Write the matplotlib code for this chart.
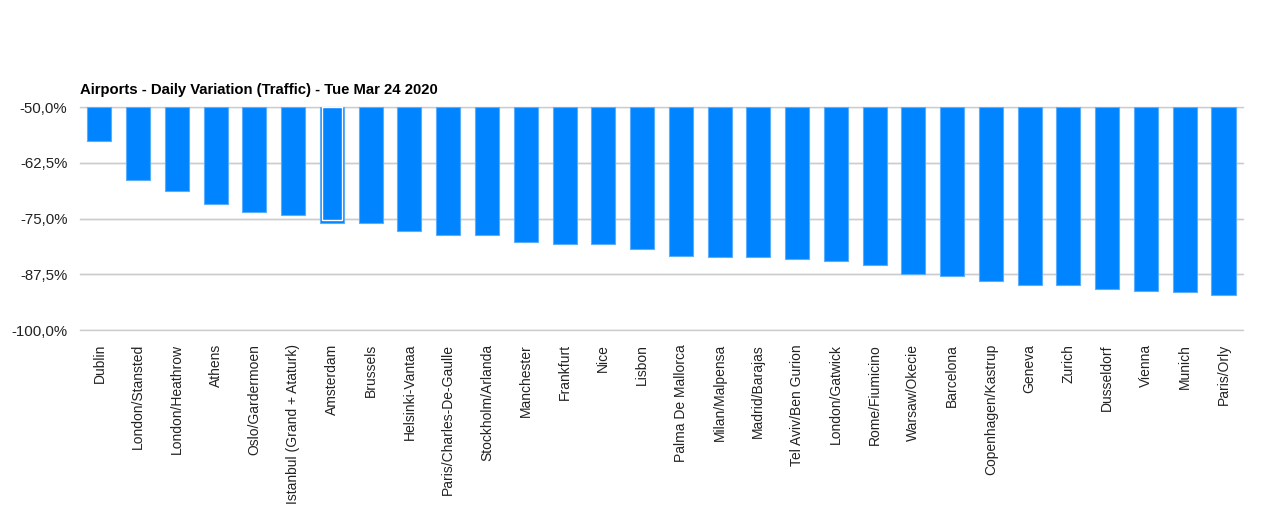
import matplotlib.pyplot as plt
from matplotlib.ticker import FuncFormatter

plt.rcParams['font.family'] = ['Liberation Sans', 'DejaVu Sans']

airports = [
    "Dublin", "London/Stansted", "London/Heathrow", "Athens", "Oslo/Gardermoen",
    "Istanbul (Grand + Ataturk)", "Amsterdam", "Brussels", "Helsinki-Vantaa",
    "Paris/Charles-De-Gaulle", "Stockholm/Arlanda", "Manchester", "Frankfurt",
    "Nice", "Lisbon", "Palma De Mallorca", "Milan/Malpensa", "Madrid/Barajas",
    "Tel Aviv/Ben Gurion", "London/Gatwick", "Rome/Fiumicino", "Warsaw/Okecie",
    "Barcelona", "Copenhagen/Kastrup", "Geneva", "Zurich", "Dusseldorf",
    "Vienna", "Munich", "Paris/Orly",
]
variation = [
    -57.7, -66.4, -68.8, -71.8, -73.6, -74.3, -75.9, -75.9, -77.7, -78.6,
    -78.6, -80.2, -80.8, -80.8, -81.9, -83.3, -83.7, -83.7, -84.0, -84.5,
    -85.4, -87.4, -87.8, -88.9, -89.8, -90.0, -90.7, -91.2, -91.4, -92.1,
]
y_ticks = [-50, -62.5, -75, -87.5, -100]
highlighted = "Amsterdam"

fig = plt.figure(figsize=(12.8, 5.28), dpi=100)
ax = fig.add_axes([0.0625, 0.375, 0.9085, 0.422])

base = -50
x = range(len(airports))
heights = [v - base for v in variation]
ax.bar(x, heights, bottom=base, width=0.62, color='#0084ff',
       edgecolor='#5aaeff', linewidth=0.8, zorder=2)

# hover-style highlight on one bar
i = airports.index(highlighted)
ax.bar([i], [heights[i] + 0.5], bottom=base, width=0.5, color='none',
       edgecolor='white', linewidth=1.0, zorder=3)

ax.set_xlim(-0.5, len(airports) - 0.5)
ax.set_ylim(-100, -50)
ax.set_yticks(y_ticks)
ax.yaxis.set_major_formatter(FuncFormatter(lambda v, p: f"{v:.1f}%".replace('.', ',')))
ax.grid(axis='y', color='#cccccc', linewidth=1, zorder=0)
for tick in y_ticks:
    ax.axhline(tick, color='#cccccc', linewidth=1, zorder=0, clip_on=False)
for s in ax.spines.values():
    s.set_visible(False)
ax.tick_params(axis='y', length=0, labelsize=10.8, labelcolor='#222222', pad=9)
ax.tick_params(axis='x', length=0, labelsize=10, labelcolor='#222222', pad=10)
ax.set_xticks(list(x))
ax.set_xticklabels(airports, rotation=90, va='top', ha='center')

ax.text(0, 1.045, "Airports - Daily Variation (Traffic) - Tue Mar 24 2020",
        transform=ax.transAxes, fontsize=10.7, fontweight='bold', ha='left', va='bottom')

fig.savefig("out.png", dpi=100)
